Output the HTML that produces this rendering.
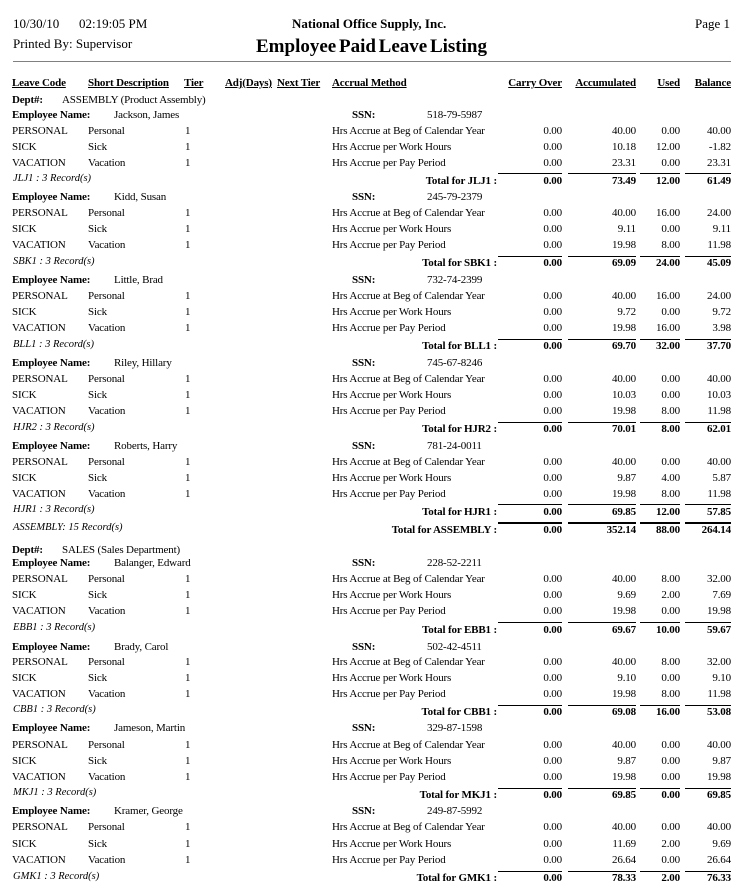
<!DOCTYPE html>
<html>
<head>
<meta charset="utf-8">
<style>
html,body{margin:0;padding:0;background:#fff;}
body{width:742px;height:894px;position:relative;overflow:hidden;font-family:"Liberation Serif",serif;color:#000;}
.h{position:absolute;font-size:13px;line-height:16px;white-space:nowrap;}
.r{position:absolute;left:0;width:742px;height:14px;line-height:14px;font-size:11px;letter-spacing:-0.15px;}
.r span{position:absolute;top:0;white-space:nowrap;}
.b{font-weight:bold;}
.u{text-decoration:underline;}
.cd{left:12px}.ds{left:88px}.tr{left:185px}.mt{left:332px}
.co{right:180px}.ac{right:106px}.us{right:62px}.bl{right:11px}
.nm{left:114px}.ss{left:352px}.sv{left:427px}
.rc{left:13px;font-style:italic;font-size:10.5px;letter-spacing:0;}
.tl{right:245px}
.L{position:absolute;left:0;width:742px;height:1px;}
.L i{position:absolute;top:0;height:1px;background:#000;}
.L.k,.L.k i{height:2px;}
.s1{left:498px;width:64px}.s2{left:568px;width:68px}.s3{left:640px;width:40px}.s4{left:685px;width:46px}
</style>
</head>
<body>
<div class="h" style="top:16px;left:13px">10/30/10</div>
<div class="h" style="top:16px;left:79px">02:19:05 PM</div>
<div class="h" style="top:36px;left:13px">Printed By: Supervisor</div>
<div class="h b" style="top:16px;left:292px">National Office Supply, Inc.</div>
<div class="h" style="top:16px;right:12px">Page 1</div>
<div class="h b" style="top:36px;left:256px;font-size:19px;line-height:22px;word-spacing:-2px">Employee Paid Leave Listing</div>
<div style="position:absolute;top:61px;left:13px;width:718px;height:1px;background:#808080"></div>

<div class="r b" style="top:76px"><span class="cd u">Leave Code</span><span class="ds u">Short Description</span><span class="u" style="left:184px">Tier</span><span class="u" style="left:225px">Adj(Days)</span><span class="u" style="left:277px">Next Tier</span><span class="mt u">Accrual Method</span><span class="co u">Carry Over</span><span class="ac u">Accumulated</span><span class="us u">Used</span><span class="bl u">Balance</span></div>

<div class="r" style="top:93px"><span class="cd b">Dept#:</span><span style="left:62px">ASSEMBLY (Product Assembly)</span></div>

<!-- Jackson -->
<div class="r" style="top:107.5px"><span class="cd b">Employee Name:</span><span class="nm">Jackson, James</span><span class="ss b">SSN:</span><span class="sv">518-79-5987</span></div>
<div class="r" style="top:123.5px"><span class="cd">PERSONAL</span><span class="ds">Personal</span><span class="tr">1</span><span class="mt">Hrs Accrue at Beg of Calendar Year</span><span class="co">0.00</span><span class="ac">40.00</span><span class="us">0.00</span><span class="bl">40.00</span></div>
<div class="r" style="top:139.5px"><span class="cd">SICK</span><span class="ds">Sick</span><span class="tr">1</span><span class="mt">Hrs Accrue per Work Hours</span><span class="co">0.00</span><span class="ac">10.18</span><span class="us">12.00</span><span class="bl">-1.82</span></div>
<div class="r" style="top:155.5px"><span class="cd">VACATION</span><span class="ds">Vacation</span><span class="tr">1</span><span class="mt">Hrs Accrue per Pay Period</span><span class="co">0.00</span><span class="ac">23.31</span><span class="us">0.00</span><span class="bl">23.31</span></div>
<div class="L" style="top:173px"><i class="s1"></i><i class="s2"></i><i class="s3"></i><i class="s4"></i></div>
<div class="r" style="top:172px"><span class="rc">JLJ1 : 3 Record(s)</span></div>
<div class="r b" style="top:173.5px"><span class="tl">Total for JLJ1 :</span><span class="co">0.00</span><span class="ac">73.49</span><span class="us">12.00</span><span class="bl">61.49</span></div>

<!-- Kidd -->
<div class="r" style="top:190px"><span class="cd b">Employee Name:</span><span class="nm">Kidd, Susan</span><span class="ss b">SSN:</span><span class="sv">245-79-2379</span></div>
<div class="r" style="top:206px"><span class="cd">PERSONAL</span><span class="ds">Personal</span><span class="tr">1</span><span class="mt">Hrs Accrue at Beg of Calendar Year</span><span class="co">0.00</span><span class="ac">40.00</span><span class="us">16.00</span><span class="bl">24.00</span></div>
<div class="r" style="top:222px"><span class="cd">SICK</span><span class="ds">Sick</span><span class="tr">1</span><span class="mt">Hrs Accrue per Work Hours</span><span class="co">0.00</span><span class="ac">9.11</span><span class="us">0.00</span><span class="bl">9.11</span></div>
<div class="r" style="top:238px"><span class="cd">VACATION</span><span class="ds">Vacation</span><span class="tr">1</span><span class="mt">Hrs Accrue per Pay Period</span><span class="co">0.00</span><span class="ac">19.98</span><span class="us">8.00</span><span class="bl">11.98</span></div>
<div class="L" style="top:256px"><i class="s1"></i><i class="s2"></i><i class="s3"></i><i class="s4"></i></div>
<div class="r" style="top:254.5px"><span class="rc">SBK1 : 3 Record(s)</span></div>
<div class="r b" style="top:255.5px"><span class="tl">Total for SBK1 :</span><span class="co">0.00</span><span class="ac">69.09</span><span class="us">24.00</span><span class="bl">45.09</span></div>

<!-- Little -->
<div class="r" style="top:273px"><span class="cd b">Employee Name:</span><span class="nm">Little, Brad</span><span class="ss b">SSN:</span><span class="sv">732-74-2399</span></div>
<div class="r" style="top:289px"><span class="cd">PERSONAL</span><span class="ds">Personal</span><span class="tr">1</span><span class="mt">Hrs Accrue at Beg of Calendar Year</span><span class="co">0.00</span><span class="ac">40.00</span><span class="us">16.00</span><span class="bl">24.00</span></div>
<div class="r" style="top:305px"><span class="cd">SICK</span><span class="ds">Sick</span><span class="tr">1</span><span class="mt">Hrs Accrue per Work Hours</span><span class="co">0.00</span><span class="ac">9.72</span><span class="us">0.00</span><span class="bl">9.72</span></div>
<div class="r" style="top:321px"><span class="cd">VACATION</span><span class="ds">Vacation</span><span class="tr">1</span><span class="mt">Hrs Accrue per Pay Period</span><span class="co">0.00</span><span class="ac">19.98</span><span class="us">16.00</span><span class="bl">3.98</span></div>
<div class="L" style="top:339px"><i class="s1"></i><i class="s2"></i><i class="s3"></i><i class="s4"></i></div>
<div class="r" style="top:337.5px"><span class="rc">BLL1 : 3 Record(s)</span></div>
<div class="r b" style="top:338.5px"><span class="tl">Total for BLL1 :</span><span class="co">0.00</span><span class="ac">69.70</span><span class="us">32.00</span><span class="bl">37.70</span></div>

<!-- Riley -->
<div class="r" style="top:356px"><span class="cd b">Employee Name:</span><span class="nm">Riley, Hillary</span><span class="ss b">SSN:</span><span class="sv">745-67-8246</span></div>
<div class="r" style="top:372px"><span class="cd">PERSONAL</span><span class="ds">Personal</span><span class="tr">1</span><span class="mt">Hrs Accrue at Beg of Calendar Year</span><span class="co">0.00</span><span class="ac">40.00</span><span class="us">0.00</span><span class="bl">40.00</span></div>
<div class="r" style="top:388px"><span class="cd">SICK</span><span class="ds">Sick</span><span class="tr">1</span><span class="mt">Hrs Accrue per Work Hours</span><span class="co">0.00</span><span class="ac">10.03</span><span class="us">0.00</span><span class="bl">10.03</span></div>
<div class="r" style="top:404px"><span class="cd">VACATION</span><span class="ds">Vacation</span><span class="tr">1</span><span class="mt">Hrs Accrue per Pay Period</span><span class="co">0.00</span><span class="ac">19.98</span><span class="us">8.00</span><span class="bl">11.98</span></div>
<div class="L" style="top:421.5px"><i class="s1"></i><i class="s2"></i><i class="s3"></i><i class="s4"></i></div>
<div class="r" style="top:420.5px"><span class="rc">HJR2 : 3 Record(s)</span></div>
<div class="r b" style="top:421.5px"><span class="tl">Total for HJR2 :</span><span class="co">0.00</span><span class="ac">70.01</span><span class="us">8.00</span><span class="bl">62.01</span></div>

<!-- Roberts -->
<div class="r" style="top:438.5px"><span class="cd b">Employee Name:</span><span class="nm">Roberts, Harry</span><span class="ss b">SSN:</span><span class="sv">781-24-0011</span></div>
<div class="r" style="top:454.5px"><span class="cd">PERSONAL</span><span class="ds">Personal</span><span class="tr">1</span><span class="mt">Hrs Accrue at Beg of Calendar Year</span><span class="co">0.00</span><span class="ac">40.00</span><span class="us">0.00</span><span class="bl">40.00</span></div>
<div class="r" style="top:470.5px"><span class="cd">SICK</span><span class="ds">Sick</span><span class="tr">1</span><span class="mt">Hrs Accrue per Work Hours</span><span class="co">0.00</span><span class="ac">9.87</span><span class="us">4.00</span><span class="bl">5.87</span></div>
<div class="r" style="top:486.5px"><span class="cd">VACATION</span><span class="ds">Vacation</span><span class="tr">1</span><span class="mt">Hrs Accrue per Pay Period</span><span class="co">0.00</span><span class="ac">19.98</span><span class="us">8.00</span><span class="bl">11.98</span></div>
<div class="L" style="top:504px"><i class="s1"></i><i class="s2"></i><i class="s3"></i><i class="s4"></i></div>
<div class="r" style="top:503px"><span class="rc">HJR1 : 3 Record(s)</span></div>
<div class="r b" style="top:504.5px"><span class="tl">Total for HJR1 :</span><span class="co">0.00</span><span class="ac">69.85</span><span class="us">12.00</span><span class="bl">57.85</span></div>

<!-- Dept total -->
<div class="L k" style="top:522px"><i class="s1"></i><i class="s2"></i><i class="s3"></i><i class="s4"></i></div>
<div class="r" style="top:521px"><span class="rc">ASSEMBLY: 15 Record(s)</span></div>
<div class="r b" style="top:523px"><span class="tl">Total for ASSEMBLY :</span><span class="co">0.00</span><span class="ac">352.14</span><span class="us">88.00</span><span class="bl">264.14</span></div>

<div class="r" style="top:542.5px"><span class="cd b">Dept#:</span><span style="left:62px">SALES (Sales Department)</span></div>

<!-- Balanger -->
<div class="r" style="top:556px"><span class="cd b">Employee Name:</span><span class="nm">Balanger, Edward</span><span class="ss b">SSN:</span><span class="sv">228-52-2211</span></div>
<div class="r" style="top:572px"><span class="cd">PERSONAL</span><span class="ds">Personal</span><span class="tr">1</span><span class="mt">Hrs Accrue at Beg of Calendar Year</span><span class="co">0.00</span><span class="ac">40.00</span><span class="us">8.00</span><span class="bl">32.00</span></div>
<div class="r" style="top:588px"><span class="cd">SICK</span><span class="ds">Sick</span><span class="tr">1</span><span class="mt">Hrs Accrue per Work Hours</span><span class="co">0.00</span><span class="ac">9.69</span><span class="us">2.00</span><span class="bl">7.69</span></div>
<div class="r" style="top:604px"><span class="cd">VACATION</span><span class="ds">Vacation</span><span class="tr">1</span><span class="mt">Hrs Accrue per Pay Period</span><span class="co">0.00</span><span class="ac">19.98</span><span class="us">0.00</span><span class="bl">19.98</span></div>
<div class="L" style="top:622px"><i class="s1"></i><i class="s2"></i><i class="s3"></i><i class="s4"></i></div>
<div class="r" style="top:621px"><span class="rc">EBB1 : 3 Record(s)</span></div>
<div class="r b" style="top:622.5px"><span class="tl">Total for EBB1 :</span><span class="co">0.00</span><span class="ac">69.67</span><span class="us">10.00</span><span class="bl">59.67</span></div>

<!-- Brady -->
<div class="r" style="top:639.5px"><span class="cd b">Employee Name:</span><span class="nm">Brady, Carol</span><span class="ss b">SSN:</span><span class="sv">502-42-4511</span></div>
<div class="r" style="top:655px"><span class="cd">PERSONAL</span><span class="ds">Personal</span><span class="tr">1</span><span class="mt">Hrs Accrue at Beg of Calendar Year</span><span class="co">0.00</span><span class="ac">40.00</span><span class="us">8.00</span><span class="bl">32.00</span></div>
<div class="r" style="top:671px"><span class="cd">SICK</span><span class="ds">Sick</span><span class="tr">1</span><span class="mt">Hrs Accrue per Work Hours</span><span class="co">0.00</span><span class="ac">9.10</span><span class="us">0.00</span><span class="bl">9.10</span></div>
<div class="r" style="top:687px"><span class="cd">VACATION</span><span class="ds">Vacation</span><span class="tr">1</span><span class="mt">Hrs Accrue per Pay Period</span><span class="co">0.00</span><span class="ac">19.98</span><span class="us">8.00</span><span class="bl">11.98</span></div>
<div class="L" style="top:704.5px"><i class="s1"></i><i class="s2"></i><i class="s3"></i><i class="s4"></i></div>
<div class="r" style="top:703px"><span class="rc">CBB1 : 3 Record(s)</span></div>
<div class="r b" style="top:704.5px"><span class="tl">Total for CBB1 :</span><span class="co">0.00</span><span class="ac">69.08</span><span class="us">16.00</span><span class="bl">53.08</span></div>

<!-- Jameson -->
<div class="r" style="top:721px"><span class="cd b">Employee Name:</span><span class="nm">Jameson, Martin</span><span class="ss b">SSN:</span><span class="sv">329-87-1598</span></div>
<div class="r" style="top:738px"><span class="cd">PERSONAL</span><span class="ds">Personal</span><span class="tr">1</span><span class="mt">Hrs Accrue at Beg of Calendar Year</span><span class="co">0.00</span><span class="ac">40.00</span><span class="us">0.00</span><span class="bl">40.00</span></div>
<div class="r" style="top:754px"><span class="cd">SICK</span><span class="ds">Sick</span><span class="tr">1</span><span class="mt">Hrs Accrue per Work Hours</span><span class="co">0.00</span><span class="ac">9.87</span><span class="us">0.00</span><span class="bl">9.87</span></div>
<div class="r" style="top:770px"><span class="cd">VACATION</span><span class="ds">Vacation</span><span class="tr">1</span><span class="mt">Hrs Accrue per Pay Period</span><span class="co">0.00</span><span class="ac">19.98</span><span class="us">0.00</span><span class="bl">19.98</span></div>
<div class="L" style="top:787.5px"><i class="s1"></i><i class="s2"></i><i class="s3"></i><i class="s4"></i></div>
<div class="r" style="top:786px"><span class="rc">MKJ1 : 3 Record(s)</span></div>
<div class="r b" style="top:788px"><span class="tl">Total for MKJ1 :</span><span class="co">0.00</span><span class="ac">69.85</span><span class="us">0.00</span><span class="bl">69.85</span></div>

<!-- Kramer -->
<div class="r" style="top:804px"><span class="cd b">Employee Name:</span><span class="nm">Kramer, George</span><span class="ss b">SSN:</span><span class="sv">249-87-5992</span></div>
<div class="r" style="top:820px"><span class="cd">PERSONAL</span><span class="ds">Personal</span><span class="tr">1</span><span class="mt">Hrs Accrue at Beg of Calendar Year</span><span class="co">0.00</span><span class="ac">40.00</span><span class="us">0.00</span><span class="bl">40.00</span></div>
<div class="r" style="top:837px"><span class="cd">SICK</span><span class="ds">Sick</span><span class="tr">1</span><span class="mt">Hrs Accrue per Work Hours</span><span class="co">0.00</span><span class="ac">11.69</span><span class="us">2.00</span><span class="bl">9.69</span></div>
<div class="r" style="top:853px"><span class="cd">VACATION</span><span class="ds">Vacation</span><span class="tr">1</span><span class="mt">Hrs Accrue per Pay Period</span><span class="co">0.00</span><span class="ac">26.64</span><span class="us">0.00</span><span class="bl">26.64</span></div>
<div class="L" style="top:871px"><i class="s1"></i><i class="s2"></i><i class="s3"></i><i class="s4"></i></div>
<div class="r" style="top:870px"><span class="rc">GMK1 : 3 Record(s)</span></div>
<div class="r b" style="top:871px"><span class="tl">Total for GMK1 :</span><span class="co">0.00</span><span class="ac">78.33</span><span class="us">2.00</span><span class="bl">76.33</span></div>
</body>
</html>
